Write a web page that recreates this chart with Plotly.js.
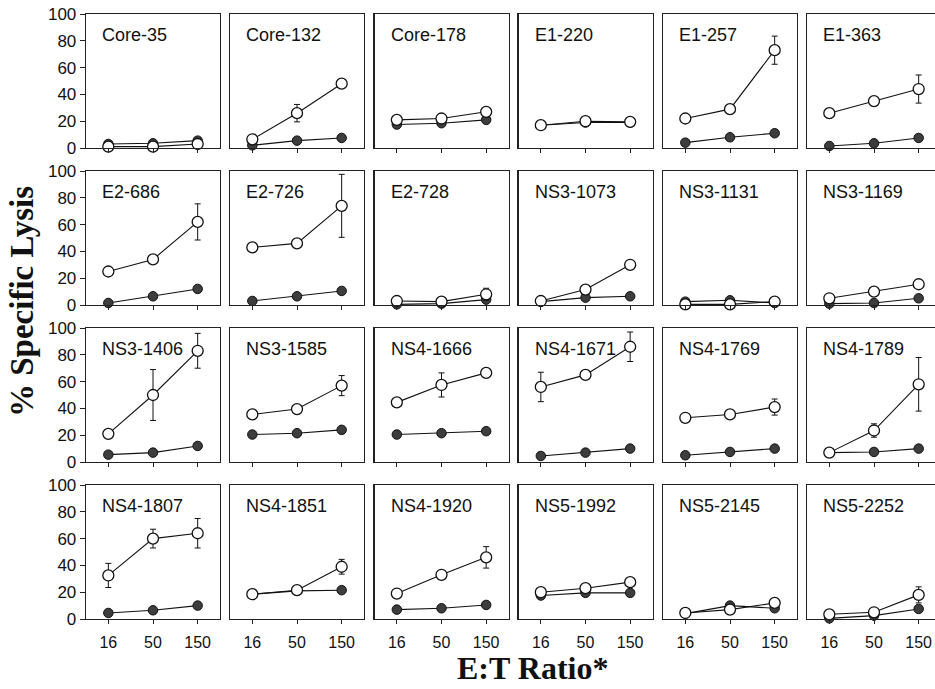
<!DOCTYPE html>
<html>
<head>
<meta charset="utf-8">
<script src="https://cdn.plot.ly/plotly-3.0.1.min.js"></script>
<style>html,body{margin:0;padding:0;background:#fff;}#chart{width:935px;height:689px;}</style>
</head>
<body>
<div id="chart"></div>
<script>
const etRatio = ['16', '50', '150'];
const yTicks = [0, 20, 40, 60, 80, 100];
const panels = ['Core-35','Core-132','Core-178','E1-220','E1-257','E1-363',
  'E2-686','E2-726','E2-728','NS3-1073','NS3-1131','NS3-1169',
  'NS3-1406','NS3-1585','NS4-1666','NS4-1671','NS4-1769','NS4-1789',
  'NS4-1807','NS4-1851','NS4-1920','NS5-1992','NS5-2145','NS5-2252'];
const openLysis = [
  [1,1,3],[6.5,26,48],[21,22,27],[17,20,19.5],[22,29,73],[26,35,44],
  [25,34,62],[43,46,74],[3,2.5,8],[3,11.5,30],[0.5,0.5,2.5],[5,10,15.5],
  [21,50,83],[35.5,39.5,57],[44.5,57.5,66.5],[56,65,86],[33,35.5,41],[7,23.5,58],
  [32.5,60,64],[18.5,21.5,39],[19,33,46],[20,23,27.5],[4.5,7,12],[3.5,5,18]];
const openErr = [
  [0,0,0],[0,6.5,0],[0,0,0],[0,0,0],[0,3.5,10.5],[3.5,0,10.5],
  [0,0,13.5],[0,0,23.5],[0,0,4.5],[0,0,0],[0,0,0],[0,0,0],
  [0,19,13],[0,0,7.5],[0,9,0],[11,0,11],[3,0,6],[0,5,20],
  [9,7,11],[0,0,5.5],[3,0,8],[0,0,0],[0,0,0],[0,0,6]];
const filledLysis = [
  [3,3.5,5.5],[2,5.5,7.5],[17.5,18.5,21],[17,19,19],[4,8,11],[1.5,3.5,7.5],
  [1.5,6.5,12],[3,6.5,10.5],[0.5,1,4],[2.5,5.5,6.5],[2.5,3.5,1.5],[1,1.5,5],
  [5.5,7,12],[20.5,21.5,24],[20.5,21.5,23],[4.5,7,10],[5,7.5,10],[7,7.5,10],
  [4.5,6.5,10],[18.5,21,21.5],[7,8,10.5],[17.5,19.5,19.5],[4,10,8],[0.5,2.5,7.5]];

const W = 935, H = 689;
const colLeft = [86, 230, 374.5, 518.5, 663, 807];
const rowTop = [14, 171, 328, 485];
const pw = 134, ph = 134;
const unit = pw / 3;
const sans = 'Liberation Sans, Arial, sans-serif';
const serif = 'Liberation Serif, Times New Roman, serif';

const data = [];
const layout = {
  width: W, height: H,
  margin: {l: 0, r: 0, t: 0, b: 0},
  paper_bgcolor: '#fff', plot_bgcolor: '#fff',
  showlegend: false,
  annotations: []
};

panels.forEach((name, i) => {
  const r = Math.floor(i / 6), c = i % 6;
  const n = i + 1;
  const xa = 'x' + (n === 1 ? '' : n), ya = 'y' + (n === 1 ? '' : n);
  const xk = 'xaxis' + (n === 1 ? '' : n), yk = 'yaxis' + (n === 1 ? '' : n);
  const x0 = colLeft[c];
  const x1 = Math.min(W, x0 + pw);
  const xr1 = -0.5 + (x1 - x0) / unit;
  layout[xk] = {
    domain: [x0 / W, x1 / W], anchor: ya,
    type: 'category', range: [-0.5, xr1],
    showgrid: false, zeroline: false,
    showline: true, mirror: true, linecolor: '#222', linewidth: 1.3,
    ticks: 'outside', ticklen: 4, tickcolor: '#222', tickwidth: 1,
    showticklabels: r === 3, ticklabelstandoff: 4,
    tickfont: {family: sans, size: 16, color: '#111'},
    fixedrange: true
  };
  layout[yk] = {
    domain: [1 - (rowTop[r] + ph) / H, 1 - rowTop[r] / H], anchor: xa,
    range: [0, 100], tickvals: yTicks,
    showgrid: false, zeroline: false,
    showline: true, mirror: true, linecolor: '#222', linewidth: 1.3,
    ticks: c === 0 ? 'outside' : '', ticklen: 5, tickcolor: '#222',
    showticklabels: c === 0,
    tickfont: {family: sans, size: 17, color: '#111'},
    fixedrange: true
  };
  data.push({
    type: 'scatter', mode: 'lines+markers', x: etRatio, y: filledLysis[i],
    xaxis: xa, yaxis: ya, cliponaxis: false,
    line: {color: '#111', width: 1.1},
    marker: {symbol: 'circle', size: 9.5, color: '#3d3d3d', line: {color: '#111', width: 1}}
  });
  data.push({
    type: 'scatter', mode: 'lines+markers', x: etRatio, y: openLysis[i],
    xaxis: xa, yaxis: ya, cliponaxis: false,
    error_y: {type: 'data', array: openErr[i], visible: true, color: '#111', thickness: 1, width: 3},
    line: {color: '#111', width: 1.1},
    marker: {symbol: 'circle', size: 11, color: '#fff', line: {color: '#111', width: 1.3}}
  });
  layout.annotations.push({
    xref: 'paper', yref: 'paper',
    x: (x0 + 14) / W, y: 1 - (rowTop[r] + 21) / H,
    xanchor: 'left', yanchor: 'middle', showarrow: false,
    text: name, font: {family: sans, size: 18, color: '#111'}
  });
});

layout.annotations.push({
  xref: 'paper', yref: 'paper', x: 22 / W, y: 1 - 302 / H,
  xanchor: 'center', yanchor: 'middle', showarrow: false, textangle: -90,
  text: '% Specific Lysis', font: {family: serif, size: 33, color: '#111', weight: 'bold'}
});
layout.annotations.push({
  xref: 'paper', yref: 'paper', x: 532 / W, y: 1 / H,
  xanchor: 'center', yanchor: 'bottom', showarrow: false,
  text: 'E:T Ratio*', font: {family: serif, size: 32, color: '#111', weight: 'bold'}
});

Plotly.newPlot('chart', data, layout, {displayModeBar: false, staticPlot: true});
</script>
</body>
</html>
